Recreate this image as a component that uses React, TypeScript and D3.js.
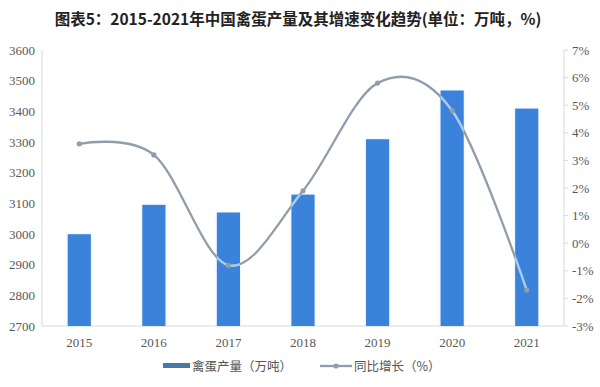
import React from "react";
import * as d3 from "d3";

// Annual egg output (10k tonnes) and year-on-year growth (%)
const years = ["2015", "2016", "2017", "2018", "2019", "2020", "2021"];
const output = [2999.2, 3094.9, 3070.0, 3128.3, 3309.0, 3467.8, 3408.8];
const growth = [3.6, 3.2, -0.8, 1.9, 5.8, 4.8, -1.7];
const leftTicks = [2700, 2800, 2900, 3000, 3100, 3200, 3300, 3400, 3500, 3600];
const rightTicks = [-3, -2, -1, 0, 1, 2, 3, 4, 5, 6, 7];

const W = 600;
const H = 387;
const plot = { left: 42, right: 564, top: 50, bottom: 326 };

const BAR = "#3b82db";
const LINE = "#909dab";
const LINE_ON_BAR = "#a9cdf2";
const SERIF = "'Liberation Serif', 'DejaVu Serif', serif";
const CJK = "'Noto Sans CJK SC', 'Noto Sans', sans-serif";

export default function App() {
  const x = d3
    .scaleBand<string>()
    .domain(years)
    .range([plot.left, plot.right])
    .paddingInner(0.69)
    .paddingOuter(0.345);
  const yL = d3.scaleLinear().domain([2700, 3600]).range([plot.bottom, plot.top]);
  const yR = d3.scaleLinear().domain([-3, 7]).range([plot.bottom, plot.top]);

  const cx = (y: string) => (x(y) as number) + x.bandwidth() / 2;
  const pts: [number, number][] = years.map((y, i) => [cx(y), yR(growth[i])]);
  const lineGen = d3.line().curve(d3.curveCardinal.tension(0));
  const path = lineGen(pts) as string;

  return (
    <svg
      width={W}
      height={H}
      style={{ position: "absolute", left: 0, top: 0, background: "#fff" }}
    >
      <defs>
        <clipPath id="barClip">
          {years.map((y, i) => (
            <rect
              key={y}
              x={x(y)}
              y={yL(output[i])}
              width={x.bandwidth()}
              height={plot.bottom - yL(output[i])}
            />
          ))}
        </clipPath>
        <filter id="glow" x="-20%" y="-20%" width="140%" height="140%">
          <feGaussianBlur stdDeviation="1.2" />
        </filter>
      </defs>

      <text
        x={298}
        y={25}
        textAnchor="middle"
        fontFamily={CJK}
        fontWeight="bold"
        fontSize={15.5}
        fill="#222"
      >
        图表5：2015-2021年中国禽蛋产量及其增速变化趋势(单位：万吨，%)
      </text>

      {/* axes */}
      <line x1={plot.left} x2={plot.left} y1={plot.top} y2={plot.bottom} stroke="#d9d9d9" />
      <line x1={plot.right} x2={plot.right} y1={plot.top} y2={plot.bottom} stroke="#d9d9d9" />
      <line x1={plot.left} x2={plot.right} y1={plot.bottom} y2={plot.bottom} stroke="#d9d9d9" />
      {rightTicks.map((t) => (
        <line key={t} x1={plot.right} x2={plot.right + 4} y1={yR(t)} y2={yR(t)} stroke="#d9d9d9" />
      ))}

      {leftTicks.map((t) => (
        <text
          key={t}
          x={35}
          y={yL(t)}
          dy="0.35em"
          textAnchor="end"
          fontFamily={SERIF}
          fontSize={13}
          fill="#595959"
        >
          {t}
        </text>
      ))}
      {rightTicks.map((t) => (
        <text
          key={t}
          x={572}
          y={yR(t)}
          dy="0.35em"
          textAnchor="start"
          fontFamily={SERIF}
          fontSize={13}
          fill="#595959"
        >
          {`${t}%`}
        </text>
      ))}
      {years.map((y) => (
        <text
          key={y}
          x={cx(y)}
          y={347}
          textAnchor="middle"
          fontFamily={SERIF}
          fontSize={13}
          fill="#595959"
        >
          {y}
        </text>
      ))}

      {/* bars */}
      {years.map((y, i) => (
        <rect
          key={y}
          x={x(y)}
          y={yL(output[i])}
          width={x.bandwidth()}
          height={plot.bottom - yL(output[i])}
          fill="#cfe3fa"
          filter="url(#glow)"
        />
      ))}
      {years.map((y, i) => (
        <rect
          key={y}
          x={x(y)}
          y={yL(output[i])}
          width={x.bandwidth()}
          height={plot.bottom - yL(output[i])}
          fill={BAR}
        />
      ))}

      {/* growth line */}
      <path d={path} fill="none" stroke={LINE} strokeWidth={2.3} />
      <path d={path} fill="none" stroke={LINE_ON_BAR} strokeWidth={2.3} clipPath="url(#barClip)" />
      {pts.map(([px, py], i) => (
        <circle key={years[i]} cx={px} cy={py} r={2.6} fill={LINE} />
      ))}

      {/* legend */}
      <rect x={163} y={363} width={27} height={5} fill="#4a78a8" />
      <text x={192} y={370.5} fontFamily={CJK} fontSize={12.5} fill="#555">
        禽蛋产量（万吨）
      </text>
      <line x1={320} x2={352} y1={366} y2={366} stroke={LINE} strokeWidth={2.3} />
      <circle cx={336} cy={366} r={2.6} fill={LINE} />
      <text x={354} y={370.5} fontFamily={CJK} fontSize={12.5} fill="#555">
        同比增长（%）
      </text>
    </svg>
  );
}
